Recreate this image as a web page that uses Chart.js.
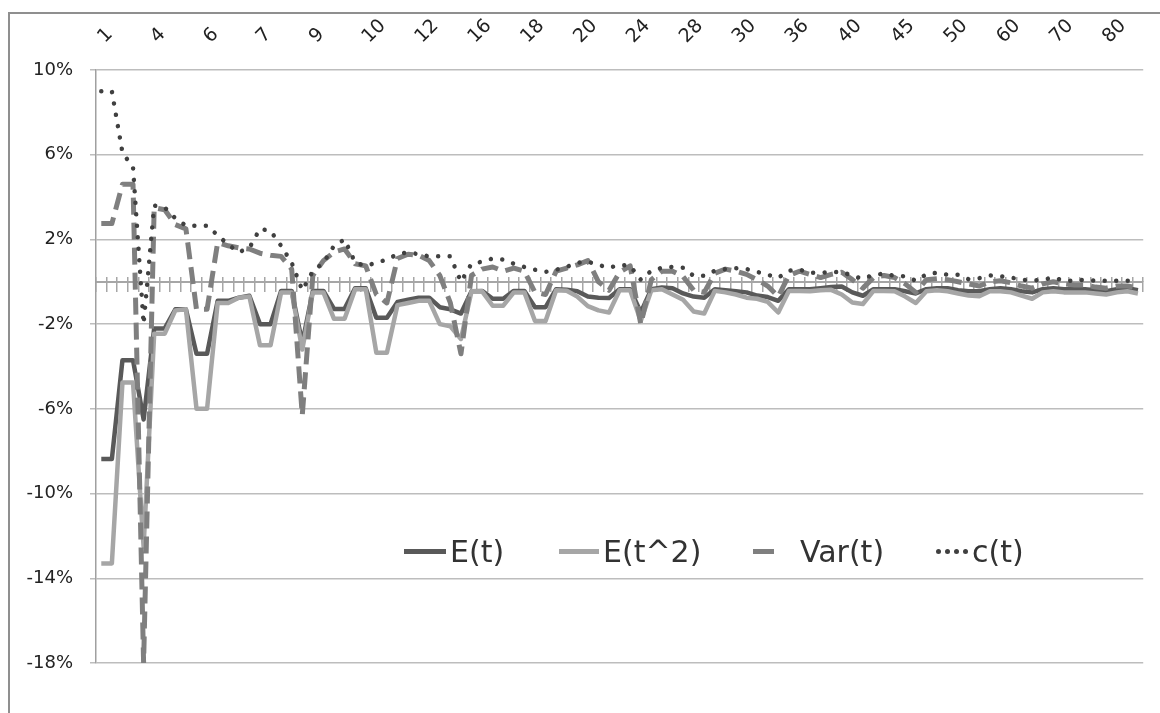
<!DOCTYPE html>
<html>
<head>
<meta charset="utf-8">
<title>E(t), E(t^2), Var(t), c(t)</title>
<script src="https://cdn.jsdelivr.net/npm/chart.js"></script>
<style>
    html, body { margin: 0; padding: 0; background: #fff; }
    #wrap { position: relative; width: 1160px; height: 713px; overflow: hidden; }
    #frame { position: absolute; left: 8px; top: 12px; width: 1160px; height: 720px;
             border-top: 2px solid #8f8f8f; border-left: 2px solid #8f8f8f; }
    #chart { position: absolute; left: 0; top: 0; }
    .item { position: absolute; top: 531px; height: 40px; display: flex; align-items: center;
            font-family: 'DejaVu Sans', sans-serif; font-size: 30px; color: #333; white-space: nowrap; }
    .sw { display: inline-block; height: 5px; margin-right: 4px; }
    .dot { display: inline-block; width: 5px; height: 5px; border-radius: 50%; background: #404040; margin-right: 4px; }
</style>
</head>
<body>
<div id="wrap">
    <div id="frame"></div>
    <canvas id="chart" width="1160" height="713"></canvas>
    <div class="item" style="left:404px"><span class="sw" style="width:42px;background:#595959"></span>E(t)</div>
    <div class="item" style="left:559px"><span class="sw" style="width:40px;background:#a6a6a6"></span>E(t^2)</div>
    <div class="item" style="left:753px"><span class="sw" style="width:21px;background:#7f7f7f;margin-right:26px"></span>Var(t)</div>
    <div class="item" style="left:936px"><span class="dot"></span><span class="dot"></span><span class="dot"></span><span class="dot"></span>c(t)</div>
</div>
<script>
// --- Categories (only every 5th one is printed on the axis) ---
const labels = [
    1, 2, 2, 3, 3,   4, 4, 5, 5, 5,   6, 6, 6, 6, 7,   7, 8, 8, 8, 8,
    9, 9, 9, 9, 10,  10, 10, 11, 11, 11,  12, 12, 13, 14, 15,  16, 16, 17, 17, 17,
    18, 18, 19, 19, 19,  20, 21, 22, 22, 23,  24, 25, 26, 26, 27,  28, 28, 29, 29, 29,
    30, 32, 33, 34, 35,  36, 36, 38, 39, 39,  40, 42, 42, 44, 44,  45, 46, 48, 48, 49,
    50, 52, 54, 56, 58,  60, 62, 64, 66, 68,  70, 72, 74, 76, 78,  80, 82, 84, 86
].map(String);

// --- Series values, in % ---
const eT = [
    -8.37, -8.37, -3.7, -3.7, -6.5, -2.2, -2.2, -1.3, -1.3, -3.4,
    -3.4, -0.9, -0.9, -0.75, -0.66, -2.0, -2.0, -0.43, -0.43, -2.9,
    -0.43, -0.43, -1.28, -1.28, -0.3, -0.3, -1.7, -1.7, -0.95, -0.85,
    -0.75, -0.75, -1.2, -1.3, -1.5, -0.45, -0.43, -0.8, -0.8, -0.43,
    -0.43, -1.2, -1.2, -0.35, -0.38, -0.45, -0.7, -0.75, -0.77, -0.35,
    -0.35, -1.45, -0.35, -0.27, -0.3, -0.55, -0.7, -0.75, -0.35, -0.4,
    -0.45, -0.5, -0.65, -0.72, -0.9, -0.35, -0.35, -0.35, -0.3, -0.25,
    -0.22, -0.5, -0.66, -0.35, -0.35, -0.35, -0.45, -0.55, -0.35, -0.3,
    -0.3, -0.4, -0.45, -0.45, -0.35, -0.3, -0.35, -0.45, -0.5, -0.35,
    -0.3, -0.35, -0.35, -0.35, -0.4, -0.45, -0.35, -0.3, -0.4
];
const eT2 = [
    -13.3, -13.3, -4.76, -4.76, -12.5, -2.45, -2.45, -1.35, -1.3, -6.0,
    -6.0, -1.0, -1.0, -0.75, -0.7, -3.0, -3.0, -0.5, -0.5, -3.2,
    -0.5, -0.5, -1.75, -1.75, -0.35, -0.35, -3.35, -3.35, -1.1, -1.0,
    -0.9, -0.9, -2.0, -2.1, -2.7, -0.45, -0.45, -1.13, -1.13, -0.5,
    -0.5, -1.85, -1.85, -0.4, -0.42, -0.7, -1.15, -1.35, -1.45, -0.4,
    -0.4, -1.85, -0.4, -0.35, -0.6, -0.85, -1.4, -1.5, -0.43, -0.5,
    -0.6, -0.75, -0.8, -0.95, -1.45, -0.43, -0.43, -0.45, -0.4, -0.38,
    -0.6, -0.98, -1.05, -0.43, -0.43, -0.45, -0.7, -1.0, -0.45, -0.4,
    -0.45, -0.55, -0.65, -0.68, -0.45, -0.45, -0.5, -0.65, -0.8, -0.5,
    -0.45, -0.5, -0.5, -0.5, -0.55, -0.6, -0.5, -0.45, -0.55
];
const varT = [
    2.75, 2.75, 4.6, 4.6, -18.0, 3.5, 3.4, 2.7, 2.5, -1.3,
    -1.3, 1.85, 1.7, 1.6, 1.55, 1.35, 1.25, 1.2, 0.6, -6.3,
    0.3, 1.0, 1.4, 1.55, 0.85, 0.75, -0.6, -1.0, 1.1, 1.3,
    1.25, 1.0, 0.3, -1.0, -3.4, 0.3, 0.6, 0.7, 0.5, 0.65,
    0.5, -0.5, -0.6, 0.5, 0.65, 0.8, 1.0, 0.0, -0.4, 0.45,
    0.75, -2.0, 0.1, 0.5, 0.5, 0.25, -0.4, -0.5, 0.4, 0.6,
    0.5, 0.35, 0.1, -0.2, -0.7, 0.3, 0.5, 0.35, 0.2, 0.35,
    0.45, 0.1, -0.3, 0.2, 0.3, 0.2, -0.1, -0.5, 0.1, 0.15,
    0.1, 0.0, -0.1, -0.2, 0.0, 0.05, -0.05, -0.2, -0.3, -0.1,
    0.0, -0.1, -0.15, -0.15, -0.25, -0.3, -0.2, -0.2, -0.3
];
const cT = [
    9.0, 9.0, 6.1, 5.4, -2.0, 3.6, 3.5, 3.0, 2.65, 2.65,
    2.65, 2.2, 1.75, 1.4, 1.6, 2.5, 2.4, 1.7, 0.9, -0.4,
    0.5, 0.9, 1.7, 2.0, 0.9, 0.75, 0.9, 1.05, 1.3, 1.4,
    1.3, 1.2, 1.2, 1.2, 0.0, 0.85, 0.95, 1.1, 1.05, 0.85,
    0.7, 0.57, 0.47, 0.57, 0.7, 0.9, 0.95, 0.8, 0.66, 0.8,
    0.75, 0.1, 0.52, 0.66, 0.7, 0.66, 0.28, 0.28, 0.52, 0.6,
    0.64, 0.6, 0.47, 0.33, 0.19, 0.52, 0.57, 0.43, 0.43, 0.45,
    0.47, 0.28, 0.14, 0.33, 0.38, 0.28, 0.26, 0.05, 0.35, 0.43,
    0.33, 0.33, 0.12, 0.17, 0.3, 0.26, 0.2, 0.1, 0.05, 0.1,
    0.2, 0.05, 0.05, 0.1, 0.05, 0.05, 0.05, 0.05, 0.05
];

// --- Value axis ---
const yMin = -18;
const yMax = 10;
const yStep = 4;

const tickFont = { family: 'DejaVu Sans', size: 18 };

new Chart(document.getElementById('chart'), {
    type: 'line',
    data: {
        labels: labels,
        datasets: [
            { label: 'E(t)', data: eT, borderColor: '#595959', borderWidth: 4.5, order: 4 },
            { label: 'E(t^2)', data: eT2, borderColor: '#a6a6a6', borderWidth: 4.5, order: 3 },
            { label: 'Var(t)', data: varT, borderColor: '#7f7f7f', borderWidth: 5, borderDash: [17, 8], order: 2 },
            { label: 'c(t)', data: cT, borderColor: '#404040', borderWidth: 4.5, borderDash: [0.01, 11.5], borderCapStyle: 'round', order: 1 }
        ]
    },
    options: {
        responsive: false,
        animation: false,
        devicePixelRatio: 1,
        elements: {
            point: { radius: 0 },
            line: { tension: 0, borderJoinStyle: 'round' }
        },
        layout: { padding: { left: 0, top: 0, right: 15, bottom: 50 } },
        plugins: { legend: { display: false }, tooltip: { enabled: false } },
        scales: {
            x: {
                position: 'top',
                offset: true,
                grid: { display: false, drawTicks: false },
                border: { display: false },
                ticks: {
                    autoSkip: false, minRotation: 45, maxRotation: 45, padding: 22, labelOffset: 16,
                    color: '#222', font: { family: 'DejaVu Sans', size: 19 },
                    callback: (v, i) => (i % 5 === 0 ? labels[i] : '')
                },
                afterFit: s => { s.height = 70; }
            },
            // axis line crossing at 0 with its tick marks
            xZero: {
                type: 'category',
                position: { y: 0 },
                offset: true,
                ticks: { display: false, autoSkip: false },
                grid: { offset: true, drawOnChartArea: false, tickLength: 9, color: '#a6a6a6', lineWidth: 1.5 },
                border: { color: '#a6a6a6', width: 2 }
            },
            xZeroUp: {
                type: 'category',
                position: { y: 0.24 },
                offset: true,
                ticks: { display: false, autoSkip: false },
                grid: { offset: true, drawOnChartArea: false, tickLength: 5, color: '#a6a6a6', lineWidth: 1.5 },
                border: { display: false }
            },
            y: {
                min: yMin,
                max: yMax,
                ticks: { stepSize: yStep, padding: 17, color: '#222', font: tickFont, callback: v => v + '%' },
                grid: { color: '#bdbdbd', lineWidth: 1.5, tickLength: 6 },
                border: { color: '#a0a0a0', width: 1.5 },
                afterFit: s => { s.width = 96; }
            }
        }
    }
});
</script>
</body>
</html>
